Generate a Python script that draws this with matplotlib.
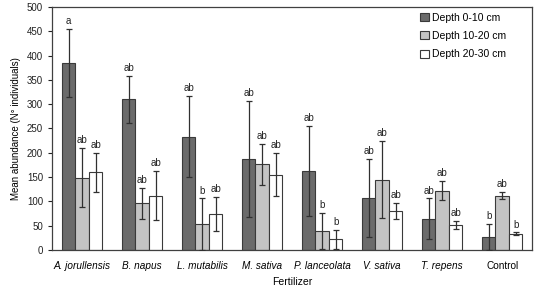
import numpy as np
import matplotlib.pyplot as plt

plt.rcParams['font.family'] = ['Liberation Sans', 'DejaVu Sans']

# data
fertilizers = ['A. jorullensis', 'B. napus', 'L. mutabilis', 'M. sativa',
               'P. lanceolata', 'V. sativa', 'T. repens', 'Control']
italic = [True, True, True, True, True, True, True, False]
depths = ['Depth 0-10 cm', 'Depth 10-20 cm', 'Depth 20-30 cm']

mean_0_10 = [384, 310, 233, 187, 162, 107, 64, 26]
sd_0_10 = [70, 48, 83, 120, 93, 80, 42, 27]
mean_10_20 = [149, 96, 53, 176, 39, 145, 122, 112]
sd_10_20 = [61, 32, 53, 43, 38, 80, 20, 8]
mean_20_30 = [160, 112, 75, 155, 22, 80, 52, 33]
sd_20_30 = [40, 50, 35, 44, 19, 17, 8, 3]

letters_0_10 = ['a', 'ab', 'ab', 'ab', 'ab', 'ab', 'ab', 'b']
letters_10_20 = ['ab', 'ab', 'b', 'ab', 'b', 'ab', 'ab', 'ab']
letters_20_30 = ['ab', 'ab', 'ab', 'ab', 'b', 'ab', 'ab', 'b']

means = [mean_0_10, mean_10_20, mean_20_30]
sds = [sd_0_10, sd_10_20, sd_20_30]
letters = [letters_0_10, letters_10_20, letters_20_30]
colors = ['#6b6b6b', '#c4c4c4', 'white']

fig = plt.figure(figsize=(5.42, 2.91), dpi=100)
ax = fig.add_axes([0.096, 0.141, 0.886, 0.835])

x = np.arange(len(fertilizers))
w = 0.225
for i in range(3):
    pos = x + (i - 1) * w
    ax.bar(pos, means[i], w, color=colors[i], edgecolor='#3a3a3a',
           linewidth=0.8, label=depths[i], zorder=2)
    ax.errorbar(pos, means[i], yerr=sds[i], fmt='none', ecolor='#303030',
                elinewidth=0.9, capsize=2.5, capthick=0.9, zorder=3)
    for px, m, s, lab in zip(pos, means[i], sds[i], letters[i]):
        ax.text(px, m + s + 6, lab, ha='center', va='bottom', fontsize=7,
                color='#222222')

ax.set_xlim(-0.5, len(fertilizers) - 0.5)
ax.set_ylim(0, 500)
ax.set_yticks(np.arange(0, 501, 50))
ax.tick_params(axis='y', labelsize=7, length=3, width=0.8, colors='#222222')
ax.set_xticks(x)
ax.set_xticklabels(fertilizers, fontsize=7.2)
for lbl, it in zip(ax.get_xticklabels(), italic):
    if it:
        lbl.set_style('italic')
ax.tick_params(axis='x', length=0, pad=8)
for s in ax.spines.values():
    s.set_color('#404040')
    s.set_linewidth(0.9)

ax.set_ylabel('Mean abundance (N° individuals)', fontsize=7, labelpad=4)
ax.set_xlabel('Fertilizer', fontsize=7.5, labelpad=4)

ax.legend(loc='upper right', frameon=False, fontsize=7.5, handlelength=0.8,
          handleheight=0.8, handletextpad=0.3, labelspacing=0.8,
          bbox_to_anchor=(0.965, 1.015))

fig.savefig('out.png', dpi=100)
